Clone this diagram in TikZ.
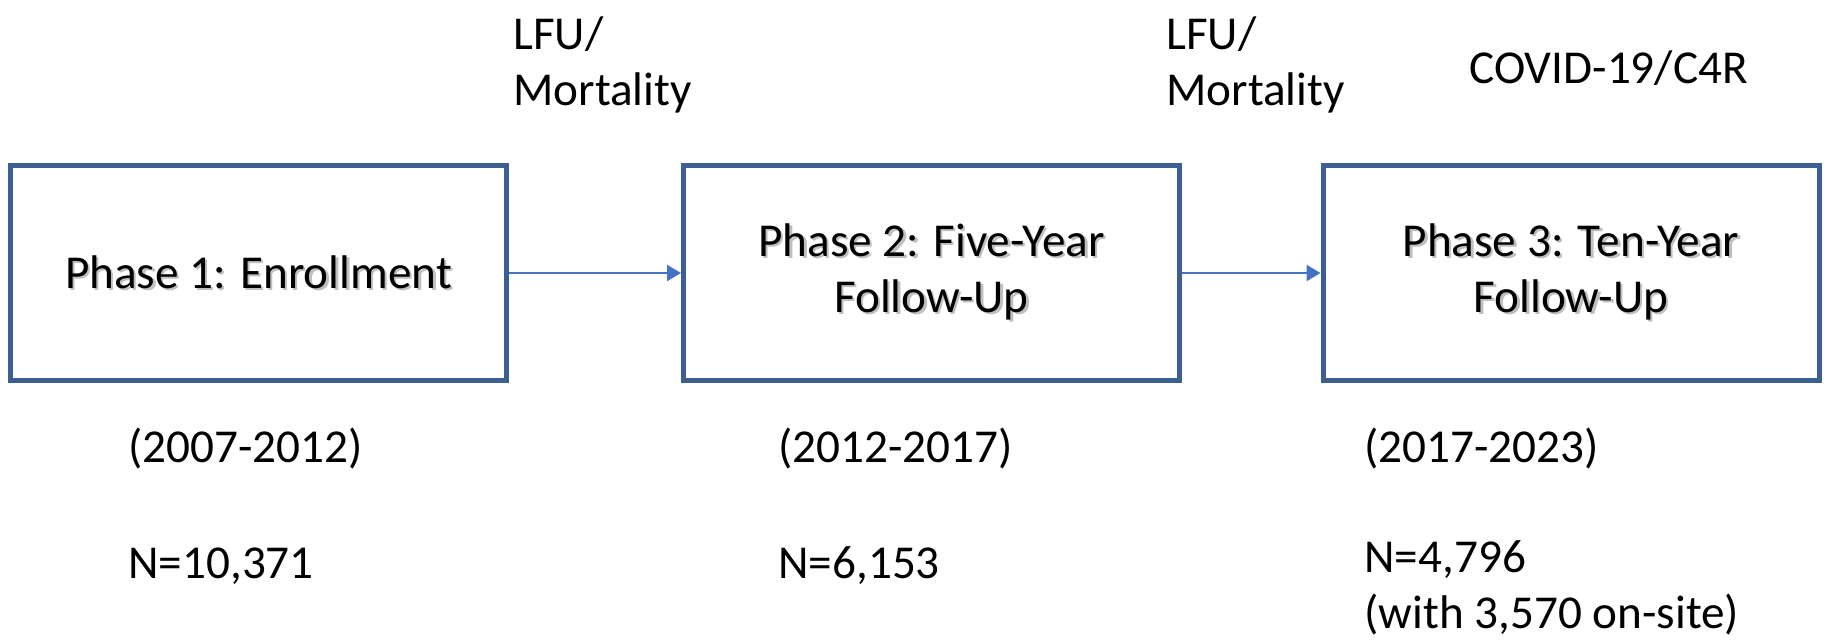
\documentclass[tikz,border=0pt]{standalone}
\usepackage{fontspec}
\setmainfont{Carlito}
\usetikzlibrary{arrows.meta}
\definecolor{boxblue}{HTML}{3C5F91}
\definecolor{arrowblue}{HTML}{4472C4}
% text inside the boxes carries a faint drop shadow
\newcommand\shadowed[1]{\leavevmode\rlap{\hspace{1.2pt}\raisebox{-1.2pt}{\textcolor{black!25}{#1}}}#1}
\begin{document}
\fontsize{23.6pt}{28pt}\selectfont
\begin{tikzpicture}[x=0.5pt,y=-0.5pt,
  phase/.style={draw=boxblue, line width=2.5pt, minimum width=248pt, minimum height=107.5pt, inner sep=0pt, align=center},
  lbl/.style={anchor=base west, inner sep=0pt, align=left},
  link/.style={-{Triangle[length=7pt,width=8pt]}, draw=arrowblue, line width=1.1pt}]
\useasboundingbox (0,0) rectangle (1825,642);
\node[phase] (p1) at (258.5,273) {\shadowed{Phase 1: Enrollment}};
\node[phase] (p2) at (931.5,273) {\shadowed{Phase 2: Five-Year}\\\shadowed{Follow-Up}};
\node[phase] (p3) at (1571,273) {\shadowed{Phase 3: Ten-Year}\\\shadowed{Follow-Up}};
\draw[link] (p1) -- (p2);
\draw[link] (p2) -- (p3);
% losses between phases (base = last line)
\node[lbl] (loss1) at (513,105) {LFU/\\Mortality};
\node[lbl] (loss2) at (1166,105) {LFU/\\Mortality};
\node[lbl] (covid) at (1469,84) {COVID-19/C4R};
% period and sample size under each phase
\node[lbl] (yr1) at (128,462) {(2007-2012)};
\node[lbl] (yr2) at (778,462) {(2012-2017)};
\node[lbl] (yr3) at (1364,462) {(2017-2023)};
\node[lbl] (n1) at (128,578) {N=10,371};
\node[lbl] (n2) at (778,578) {N=6,153};
\node[lbl] (n3) at (1364,628) {N=4,796\\(with 3,570 on-site)};
\end{tikzpicture}
\end{document}
